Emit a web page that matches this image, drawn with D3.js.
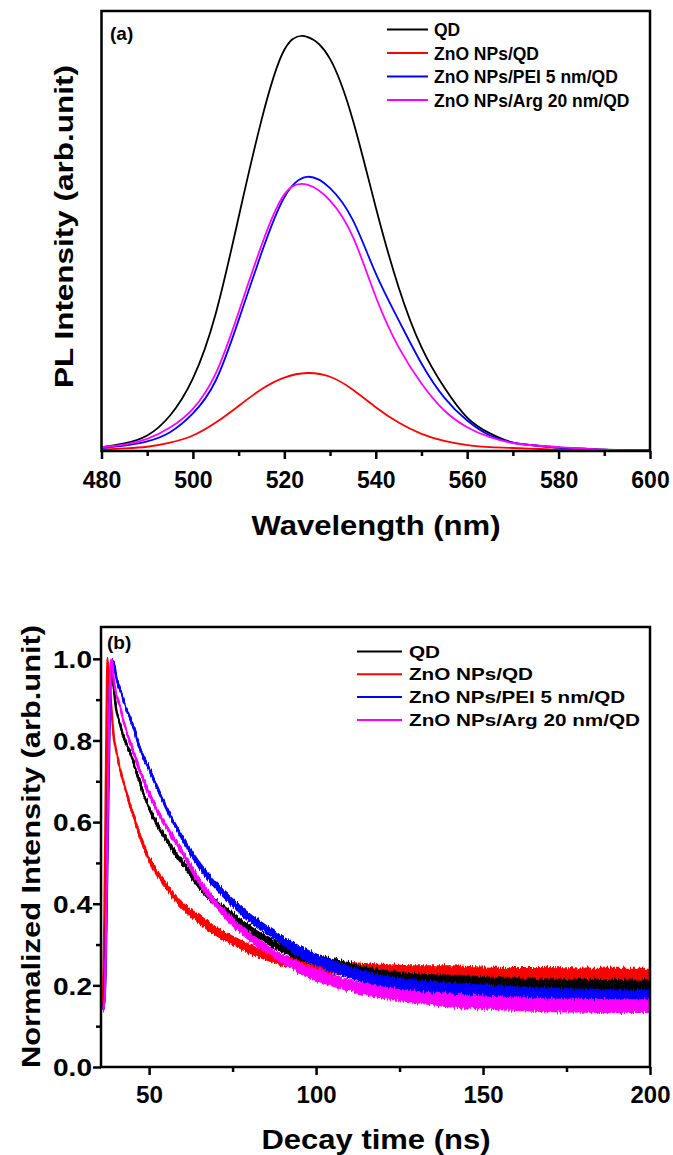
<!DOCTYPE html>
<html>
<head>
<meta charset="utf-8">
<script src="https://cdn.jsdelivr.net/npm/d3@7/dist/d3.min.js"></script>
<style>
  body { margin: 0; background: #fff; }
  text { font-family: "Liberation Sans", Arial, sans-serif; font-weight: bold; fill: #000; }
</style>
</head>
<body>
<div id="chart"></div>
<script>
// ---- data ----

// panel (a): PL spectra
var wavelength = [480, 485, 490, 495, 500, 505, 510, 515, 520, 525, 530, 535, 540,
                  545, 550, 555, 560, 565, 570, 575, 580, 585, 590, 595, 600];
var plQD     = [0.008, 0.017, 0.036, 0.084, 0.173, 0.329, 0.560, 0.793, 0.962, 0.993, 0.940, 0.793, 0.584,
                0.392, 0.248, 0.151, 0.079, 0.041, 0.019, 0.012, 0.007, 0.004, 0.002, 0.001, 0.001];
var plZnO    = [0.002, 0.005, 0.009, 0.019, 0.036, 0.067, 0.107, 0.147, 0.175, 0.186, 0.177, 0.146, 0.104,
                0.067, 0.040, 0.023, 0.013, 0.008, 0.006, 0.004, 0.002, 0.002, 0.001, 0.001, 0.000];
var plPEI    = [0.006, 0.012, 0.022, 0.044, 0.089, 0.168, 0.313, 0.474, 0.608, 0.657, 0.630, 0.553, 0.425,
                0.313, 0.209, 0.127, 0.072, 0.036, 0.019, 0.012, 0.007, 0.005, 0.002, 0.001, 0.001];
var plArg    = [0.008, 0.014, 0.028, 0.055, 0.100, 0.185, 0.332, 0.492, 0.615, 0.638, 0.600, 0.513, 0.369,
                0.248, 0.161, 0.096, 0.056, 0.032, 0.018, 0.012, 0.008, 0.005, 0.002, 0.001, 0.001];

// panel (b): TRPL decay, centre of the noisy trace and its half spread
var decayTime = [36.2, 36.6, 37.0, 37.6, 38.2, 38.8, 39.4, 40.3, 41.3, 42.3, 43.3,
                 45, 47.5, 50, 55, 60, 65, 70, 75, 80, 85, 90,
                 95, 100, 110, 120, 130, 140, 150, 160, 170, 180, 190, 200];
var decayQD  = [0.14, 0.17, 0.30, 0.65, 0.93, 0.99, 0.93, 0.87, 0.84, 0.81, 0.79,
                0.755, 0.69, 0.635, 0.56, 0.50, 0.446, 0.402, 0.37, 0.34, 0.313, 0.29,
                0.275, 0.264, 0.242, 0.225, 0.215, 0.21, 0.206, 0.203, 0.201, 0.2, 0.199, 0.198];
var decayZnO = [0.15, 0.35, 0.65, 1.0, 0.93, 0.87, 0.81, 0.77, 0.73, 0.70, 0.67,
                0.625, 0.56, 0.51, 0.445, 0.395, 0.362, 0.333, 0.31, 0.29, 0.273, 0.26,
                0.252, 0.248, 0.24, 0.236, 0.232, 0.228, 0.225, 0.224, 0.224, 0.223, 0.222, 0.222];
var decayPEI = [0.14, 0.16, 0.25, 0.55, 0.85, 1.0, 0.99, 0.95, 0.925, 0.9, 0.875,
                0.84, 0.775, 0.73, 0.638, 0.56, 0.495, 0.445, 0.403, 0.367, 0.338, 0.31,
                0.283, 0.263, 0.232, 0.21, 0.198, 0.19, 0.185, 0.18, 0.177, 0.175, 0.173, 0.172];
var decayArg = [0.14, 0.16, 0.28, 0.62, 0.92, 1.0, 0.95, 0.91, 0.885, 0.85, 0.82,
                0.78, 0.72, 0.67, 0.59, 0.525, 0.455, 0.40, 0.355, 0.32, 0.29, 0.265,
                0.243, 0.226, 0.2, 0.182, 0.171, 0.163, 0.158, 0.154, 0.151, 0.15, 0.149, 0.149];
var spreadQD  = [0.008, 0.008, 0.008, 0.008, 0.008, 0.008, 0.008, 0.008, 0.008, 0.008, 0.008,
                 0.009, 0.009, 0.009, 0.009, 0.009, 0.011, 0.011, 0.011, 0.011, 0.011, 0.011,
                 0.014, 0.014, 0.014, 0.014, 0.014, 0.016, 0.016, 0.016, 0.016, 0.016, 0.016, 0.016];
var spreadZnO = [0.008, 0.008, 0.008, 0.008, 0.008, 0.008, 0.008, 0.008, 0.008, 0.008, 0.008,
                 0.010, 0.010, 0.010, 0.010, 0.010, 0.012, 0.012, 0.012, 0.012, 0.012, 0.012,
                 0.017, 0.017, 0.017, 0.017, 0.017, 0.021, 0.021, 0.021, 0.021, 0.021, 0.021, 0.021];
var spreadPEI = [0.008, 0.008, 0.008, 0.008, 0.008, 0.008, 0.008, 0.008, 0.008, 0.008, 0.008,
                 0.009, 0.009, 0.009, 0.009, 0.009, 0.011, 0.011, 0.011, 0.011, 0.011, 0.011,
                 0.015, 0.015, 0.015, 0.015, 0.015, 0.017, 0.017, 0.017, 0.017, 0.017, 0.017, 0.017];
var spreadArg = [0.008, 0.008, 0.008, 0.008, 0.008, 0.008, 0.008, 0.008, 0.008, 0.008, 0.008,
                 0.009, 0.009, 0.009, 0.009, 0.009, 0.011, 0.011, 0.011, 0.011, 0.011, 0.011,
                 0.015, 0.015, 0.015, 0.015, 0.015, 0.017, 0.017, 0.017, 0.017, 0.017, 0.017, 0.017];

var seriesNames = ["QD", "ZnO NPs/QD", "ZnO NPs/PEI 5 nm/QD", "ZnO NPs/Arg 20 nm/QD"];
var seriesColors = ["#000000", "#ff0000", "#0000ff", "#ff00ff"];
var wlTicks = [480, 500, 520, 540, 560, 580, 600];
var wlMinor = [490, 510, 530, 550, 570, 590];
var tTicks = [50, 100, 150, 200];
var tMinor = [75, 125, 175];
var yTicks = [0.0, 0.2, 0.4, 0.6, 0.8, 1.0];
var yMinor = [0.1, 0.3, 0.5, 0.7, 0.9];

// ---- svg ----
var svgWidth = 673;
var svgHeight = 1155;

var svg = d3.select("#chart")
  .append("svg")
  .attr("width", svgWidth)
  .attr("height", svgHeight);

var defs = svg.append("defs");

// jagged edge look for the noisy decay traces (purely visual, vertical jitter only)
var filt = defs.append("filter")
  .attr("id", "jag")
  .attr("x", "-5%").attr("y", "-5%").attr("width", "110%").attr("height", "110%");
filt.append("feTurbulence")
  .attr("type", "fractalNoise")
  .attr("baseFrequency", "0.7 0.08")
  .attr("numOctaves", 1)
  .attr("seed", 3)
  .attr("result", "noise0");
filt.append("feColorMatrix")
  .attr("in", "noise0")
  .attr("type", "matrix")
  .attr("values", "1 0 0 0 0  0 1 0 0 0  0 0 0 0 0.5  0 0 0 0 1")
  .attr("result", "noise");
filt.append("feDisplacementMap")
  .attr("in", "SourceGraphic")
  .attr("in2", "noise")
  .attr("scale", 8)
  .attr("xChannelSelector", "B")
  .attr("yChannelSelector", "R");

// ================= panel (a) =================
var a = { left: 101.5, right: 650, top: 11, bottom: 451 };

var xA = d3.scaleLinear().domain([480, 600]).range([a.left, a.right]);
var yA = d3.scaleLinear().domain([0, 1.055]).range([a.bottom - 0.5, a.top]);

var gA = svg.append("g");

var plSeries = [plQD, plZnO, plPEI, plArg];
var plLine = d3.line()
  .x(function(d, i) { return xA(wavelength[i]); })
  .y(function(d) { return yA(d); })
  .curve(d3.curveNatural);

gA.selectAll(".pl")
  .data(plSeries)
  .enter()
  .append("path")
  .attr("class", "pl")
  .attr("fill", "none")
  .attr("stroke", function(d, i) { return seriesColors[i]; })
  .attr("stroke-width", 1.8)
  .attr("d", plLine);

// bottom axis with major and minor ticks
var axA = gA.append("g")
  .attr("transform", "translate(0," + a.bottom + ")")
  .call(d3.axisBottom(xA).tickValues(wlTicks).tickSize(8).tickFormat(d3.format("d")));
gA.append("g")
  .attr("transform", "translate(0," + a.bottom + ")")
  .call(d3.axisBottom(xA).tickValues(wlMinor).tickSize(5).tickFormat(""));

// frame
gA.append("rect")
  .attr("x", a.left).attr("y", a.top)
  .attr("width", a.right - a.left).attr("height", a.bottom - a.top)
  .attr("fill", "none").attr("stroke", "#000").attr("stroke-width", 2.5);

gA.append("text")
  .attr("x", 110).attr("y", 40)
  .style("font-size", "19px")
  .text("(a)");

// axis titles
gA.append("text")
  .attr("x", 376).attr("y", 535)
  .attr("text-anchor", "middle")
  .attr("textLength", 249).attr("lengthAdjust", "spacingAndGlyphs")
  .style("font-size", "28px")
  .text("Wavelength (nm)");

gA.append("text")
  .attr("transform", "translate(73,226.5) rotate(-90)")
  .attr("text-anchor", "middle")
  .attr("textLength", 323).attr("lengthAdjust", "spacingAndGlyphs")
  .style("font-size", "25px")
  .text("PL Intensity (arb.unit)");

// legend (a)
var legA = gA.append("g").selectAll("g")
  .data(seriesNames)
  .enter()
  .append("g")
  .attr("transform", function(d, i) { return "translate(387," + (29.5 + i * 23.5) + ")"; });
legA.append("line")
  .attr("x1", 0).attr("x2", 41)
  .attr("stroke", function(d, i) { return seriesColors[i]; })
  .attr("stroke-width", 2);
legA.append("text")
  .attr("x", 47).attr("y", 6.5)
  .style("font-size", "17.5px")
  .text(function(d) { return d; });

// ================= panel (b) =================
var b = { left: 101, right: 650, top: 627, bottom: 1067 };

var xB = d3.scaleLinear().domain([35.6, 200]).range([b.left, b.right]);
var yB = d3.scaleLinear().domain([0, 1.078]).range([b.bottom, b.top]);

var gB = svg.append("g");

var decaySeries = [
  { c: decayZnO, s: spreadZnO, k: 1 },
  { c: decayQD,  s: spreadQD,  k: 0 },
  { c: decayPEI, s: spreadPEI, k: 2 },
  { c: decayArg, s: spreadArg, k: 3 }
];

var band = d3.area()
  .x(function(d, i) { return xB(decayTime[i]); })
  .y0(function(d) { return yB(d[0] - d[1]); })
  .y1(function(d) { return yB(Math.min(d[0] + d[1], 1.0)); })
  .curve(d3.curveMonotoneX);

var decayLine = d3.line()
  .x(function(d, i) { return xB(decayTime[i]); })
  .y(function(d) { return yB(d); })
  .curve(d3.curveMonotoneX);

var clip = defs.append("clipPath").attr("id", "clipB");
clip.append("rect")
  .attr("x", b.left).attr("y", b.top)
  .attr("width", b.right - b.left).attr("height", b.bottom - b.top);

var traces = gB.append("g")
  .attr("clip-path", "url(#clipB)")
  .selectAll(".trace")
  .data(decaySeries)
  .enter()
  .append("g")
  .attr("class", "trace")
  .attr("filter", "url(#jag)");

traces.append("path")
  .attr("fill", function(d) { return seriesColors[d.k]; })
  .attr("stroke", "none")
  .attr("d", function(d) { return band(d.c.map(function(v, i) { return [v, d.s[i]]; })); });

traces.append("path")
  .attr("fill", "none")
  .attr("stroke", function(d) { return seriesColors[d.k]; })
  .attr("stroke-width", 2.4)
  .attr("d", function(d) { return decayLine(d.c); });

// axes
var axBx = gB.append("g")
  .attr("transform", "translate(0," + b.bottom + ")")
  .call(d3.axisBottom(xB).tickValues(tTicks).tickSize(8).tickFormat(d3.format("d")));
gB.append("g")
  .attr("transform", "translate(0," + b.bottom + ")")
  .call(d3.axisBottom(xB).tickValues(tMinor).tickSize(5).tickFormat(""));

var axBy = gB.append("g")
  .attr("transform", "translate(" + b.left + ",0)")
  .call(d3.axisLeft(yB).tickValues(yTicks).tickSize(8).tickFormat(d3.format(".1f")));
gB.append("g")
  .attr("transform", "translate(" + b.left + ",0)")
  .call(d3.axisLeft(yB).tickValues(yMinor).tickSize(5).tickFormat(""));

gB.append("rect")
  .attr("x", b.left).attr("y", b.top)
  .attr("width", b.right - b.left).attr("height", b.bottom - b.top)
  .attr("fill", "none").attr("stroke", "#000").attr("stroke-width", 2.5);

gB.append("text")
  .attr("x", 107).attr("y", 649)
  .style("font-size", "19px")
  .text("(b)");

gB.append("text")
  .attr("x", 376).attr("y", 1149)
  .attr("text-anchor", "middle")
  .attr("textLength", 229).attr("lengthAdjust", "spacingAndGlyphs")
  .style("font-size", "28px")
  .text("Decay time (ns)");

gB.append("text")
  .attr("transform", "translate(40,846.5) rotate(-90)")
  .attr("text-anchor", "middle")
  .attr("textLength", 443).attr("lengthAdjust", "spacingAndGlyphs")
  .style("font-size", "25px")
  .text("Normalized Intensity (arb.unit)");

// legend (b)
var legBWidths = [31, 124, 216, 231];
var legB = gB.append("g").selectAll("g")
  .data(seriesNames)
  .enter()
  .append("g")
  .attr("transform", function(d, i) { return "translate(357," + (651.5 + i * 22.8) + ")"; });
legB.append("line")
  .attr("x1", 0).attr("x2", 45)
  .attr("stroke", function(d, i) { return seriesColors[i]; })
  .attr("stroke-width", 2);
legB.append("text")
  .attr("x", 52).attr("y", 6)
  .attr("textLength", function(d, i) { return legBWidths[i]; })
  .attr("lengthAdjust", "spacingAndGlyphs")
  .style("font-size", "17px")
  .text(function(d) { return d; });

// common axis styling
svg.selectAll(".domain").remove();
svg.selectAll(".tick line").attr("stroke", "#000").attr("stroke-width", 2.5);
axA.selectAll(".tick text").attr("y", 21).style("font-size", "23px");
axBx.selectAll(".tick text").attr("y", 20).style("font-size", "23px")
  .attr("textLength", 40).attr("lengthAdjust", "spacingAndGlyphs");
axBx.selectAll(".tick text").filter(function(d) { return d < 100; }).attr("textLength", 27);
axBy.selectAll(".tick text").attr("x", -9).attr("dy", "0.36em").style("font-size", "24px")
  .attr("textLength", 39).attr("lengthAdjust", "spacingAndGlyphs");
svg.selectAll(".tick text").style("font-family", "'Liberation Sans', Arial, sans-serif").style("font-weight", "bold").attr("fill", "#000");
</script>
</body>
</html>
